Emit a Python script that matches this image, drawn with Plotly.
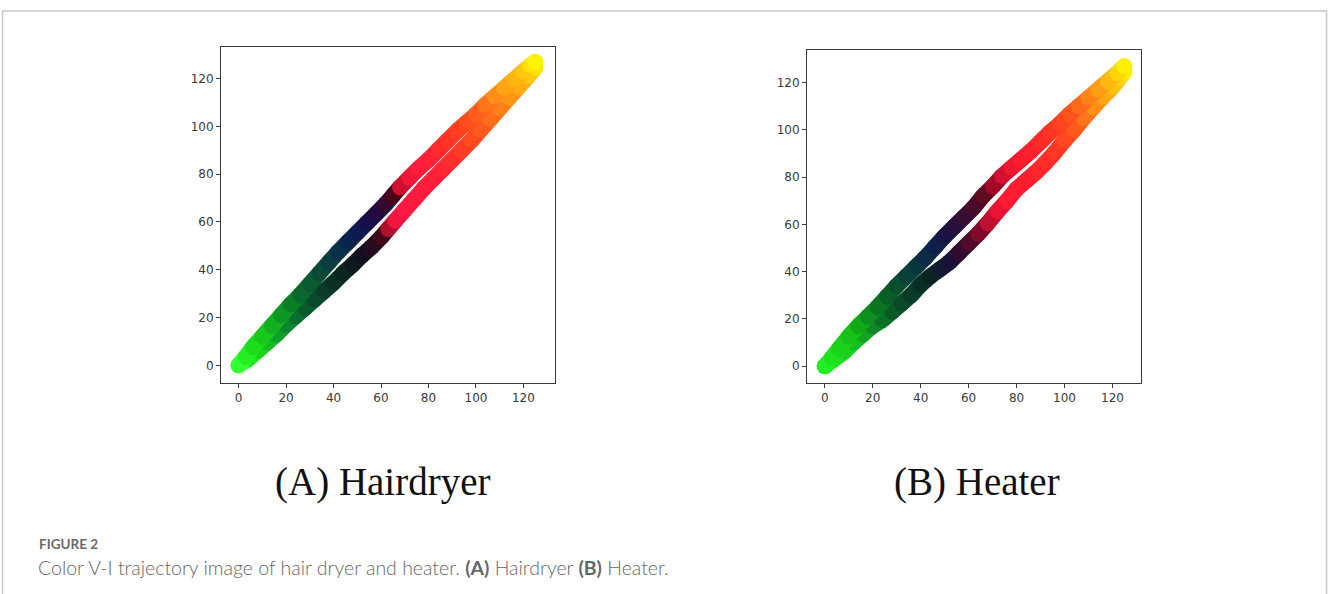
import plotly.graph_objects as go

# ---------------- data ----------------
# Panel A: Hairdryer
a_up_x = [0, 3, 6, 10, 14, 18, 22, 26, 30, 34, 38, 42, 46, 50, 54, 58, 62, 65, 68, 72, 76, 80, 84, 88, 92, 96, 100, 104, 108, 112, 116, 120, 123, 125]
a_up_y = [0, 3.5, 7.5, 12, 16.5, 21, 25.5, 29.5, 34, 38.5, 43, 47.5, 51.5, 55.5, 59.5, 63.5, 67.5, 71, 74.5, 78.5, 82.5, 86, 90, 94, 98, 101.5, 105, 109, 112.5, 116, 119.5, 123, 125.5, 127]
a_up_c = ["#33ff33", "#22ee22", "#1cdc1c", "#18c818", "#12b020", "#0c9824", "#0a7f28", "#0a682c", "#0b5a30", "#0a4a36",
          "#0a3c40", "#08304a", "#0a2450", "#0e1a52", "#180e4a", "#240a40", "#360a30", "#4a0616", "#d01030", "#f01838",
          "#ff1c3c", "#ff2236", "#ff2a2c", "#ff3424", "#ff4020", "#ff4c20", "#ff5e1c", "#ff761a", "#ff8e18", "#ffa414",
          "#ffb412", "#ffc80c", "#ffe008", "#fff200"]

a_lo_x = [0, 4, 8, 12, 16, 20, 24, 28, 32, 36, 40, 44, 48, 52, 56, 60, 63, 66, 70, 74, 78, 82, 86, 90, 94, 98, 102, 106, 110, 114, 118, 122, 125]
a_lo_y = [0, 2.5, 6, 9.5, 13, 17, 20.5, 24, 27.5, 31, 34.5, 38.5, 42, 46, 49.5, 53.5, 57, 60.5, 65, 69.5, 74, 78, 82, 86, 90, 94, 98.5, 103, 107.5, 112, 116.5, 121, 124.5]
a_lo_c = ["#33ff33", "#22ea22", "#1ad41e", "#14bc24", "#0ea028", "#0a862c", "#0a6e2e", "#0a5a2e", "#0a4a2c", "#0a3c2a",
          "#0a3024", "#0a2420", "#0c1a20", "#140e22", "#280a1e", "#400818", "#b0102c", "#f01440", "#ff1842", "#ff1a40",
          "#ff1c3c", "#ff2038", "#ff2634", "#ff302c", "#ff3c26", "#ff4a22", "#ff5a1e", "#ff6c1a", "#ff8018", "#ff9616",
          "#ffac12", "#ffc80c", "#ffe406"]

# Panel B: Heater
b_up_x = [0, 3, 6, 10, 14, 18, 22, 26, 30, 34, 38, 42, 46, 50, 54, 58, 62, 66, 70, 74, 78, 82, 86, 90, 94, 98, 102, 106, 110, 114, 118, 122, 125]
b_up_y = [0, 3.5, 7.5, 12.5, 17, 21, 25, 29.5, 34, 38, 42, 46, 50.5, 55, 59, 63, 67, 72, 76, 80.5, 84, 87.5, 91, 95, 99, 102.5, 106.5, 110, 113.5, 117, 120.5, 124, 127]
b_up_c = ["#22ee22", "#1ee01e", "#1ad21a", "#16c216", "#12a818", "#0e8e1c", "#0a7420", "#0a5e26", "#0a4e30", "#08423a",
          "#083640", "#0a2a48", "#0e1e4a", "#1a1444", "#28103c", "#380e34", "#4a0a2a", "#600a20", "#a00a28", "#d41030",
          "#f01830", "#ff1c2e", "#ff222a", "#ff2a26", "#ff3424", "#ff4220", "#ff521c", "#ff6a1a", "#ff8418", "#ff9e14",
          "#ffb810", "#ffd40a", "#fff000"]

b_lo_x = [0, 4, 8, 12, 16, 20, 24, 28, 32, 36, 40, 44, 48, 52, 56, 60, 64, 68, 72, 76, 80, 84, 88, 92, 96, 100, 104, 108, 112, 116, 120, 123, 125]
b_lo_y = [0, 3, 6, 10, 13.5, 17, 19.5, 23, 26.5, 30, 34.5, 38, 41, 44, 48, 52, 56, 60.5, 65.5, 70, 75, 78.5, 82, 86, 90.5, 95.5, 100, 105, 109.5, 114, 118, 122, 124.5]
b_lo_c = ["#22ee22", "#1ee01e", "#1ad01e", "#16be20", "#12a422", "#0e8a26", "#0a7028", "#0a5a28", "#0a4828", "#0a3a28",
          "#0a2e24", "#0a2426", "#101a30", "#1a1236", "#340a30", "#500a2a", "#800a2c", "#c01030", "#e81434", "#ff1a34",
          "#ff1c30", "#ff1e2e", "#ff242c", "#ff2c28", "#ff3824", "#ff4820", "#ff5c1c", "#ff761a", "#ff9016", "#ffa812",
          "#ffc00e", "#ffd80a", "#ffee04"]

tick_vals = [0, 20, 40, 60, 80, 100, 120]
tick_text = ["0", "20", "40", "60", "80", "100", "120"]

caption_a = "(A) Hairdryer"
caption_b = "(B) Heater"
fig_label = "FIGURE 2"
fig_caption = "Color V-I trajectory image of hair dryer and heater. <b>(A)</b> Hairdryer <b>(B)</b> Heater."

# ---------------- figure ----------------
W, H = 1328, 594
BAND = 16

fig = go.Figure()


def add_branch(xs, ys, cs, xa, ya):
    for i in range(len(xs) - 1):
        fig.add_trace(go.Scatter(
            x=[xs[i], xs[i + 1]], y=[ys[i], ys[i + 1]], mode="lines",
            line=dict(color=cs[i], width=BAND), xaxis=xa, yaxis=ya,
            hoverinfo="skip", showlegend=False))
    fig.add_trace(go.Scatter(
        x=xs, y=ys, mode="markers",
        marker=dict(color=cs, size=BAND, line=dict(width=0)),
        xaxis=xa, yaxis=ya, hoverinfo="skip", showlegend=False))


add_branch(a_lo_x, a_lo_y, a_lo_c, "x", "y")
add_branch(a_up_x, a_up_y, a_up_c, "x", "y")
add_branch(b_lo_x, b_lo_y, b_lo_c, "x2", "y2")
add_branch(b_up_x, b_up_y, b_up_c, "x2", "y2")

ax_common = dict(
    showgrid=False, zeroline=False, showline=True, linecolor="#3a3a3a", linewidth=1,
    mirror=True, ticks="outside", ticklen=4, tickwidth=1, tickcolor="#3a3a3a",
    tickvals=tick_vals, ticktext=tick_text,
    tickfont=dict(family="DejaVu Sans", size=12, color="#3a3a3a"),
)


def px_x(p):
    return p / W


def px_y(p):
    return 1 - p / H


fig.update_layout(
    width=W, height=H, margin=dict(l=0, r=0, t=0, b=0),
    paper_bgcolor="white", plot_bgcolor="white",
    showlegend=False,
    xaxis=dict(domain=[px_x(221), px_x(555)], range=[-7.4, 133.3], anchor="y", **ax_common),
    yaxis=dict(domain=[px_y(383), px_y(47)], range=[-7.4, 133.2], anchor="x", **ax_common),
    xaxis2=dict(domain=[px_x(807), px_x(1141)], range=[-7.4, 131.9], anchor="y2", **ax_common),
    yaxis2=dict(domain=[px_y(383), px_y(49.5)], range=[-7.1, 134.0], anchor="x2", **ax_common),
    shapes=[dict(type="rect", xref="paper", yref="paper",
                 x0=px_x(2.5), x1=px_x(1326.5), y0=-0.02, y1=px_y(11),
                 line=dict(color="#c8c8c8", width=1.5), fillcolor="rgba(0,0,0,0)", layer="below")],
    annotations=[
        dict(text=caption_a, x=px_x(382), y=px_y(482), xref="paper", yref="paper",
             xanchor="center", yanchor="middle", showarrow=False,
             font=dict(family="Liberation Serif", size=39, color="#111111")),
        dict(text=caption_b, x=px_x(977), y=px_y(482), xref="paper", yref="paper",
             xanchor="center", yanchor="middle", showarrow=False,
             font=dict(family="Liberation Serif", size=39, color="#111111")),
        dict(text=fig_label, x=px_x(37), y=px_y(544), xref="paper", yref="paper",
             xanchor="left", yanchor="middle", showarrow=False,
             font=dict(family="Lato", size=13.5, color="#6a6a6a", weight="bold")),
        dict(text=fig_caption, x=px_x(36), y=px_y(567), xref="paper", yref="paper",
             xanchor="left", yanchor="middle", showarrow=False,
             font=dict(family="Lato", size=19.5, color="#666666", weight=300)),
    ],
)

fig.write_html("out.html")
